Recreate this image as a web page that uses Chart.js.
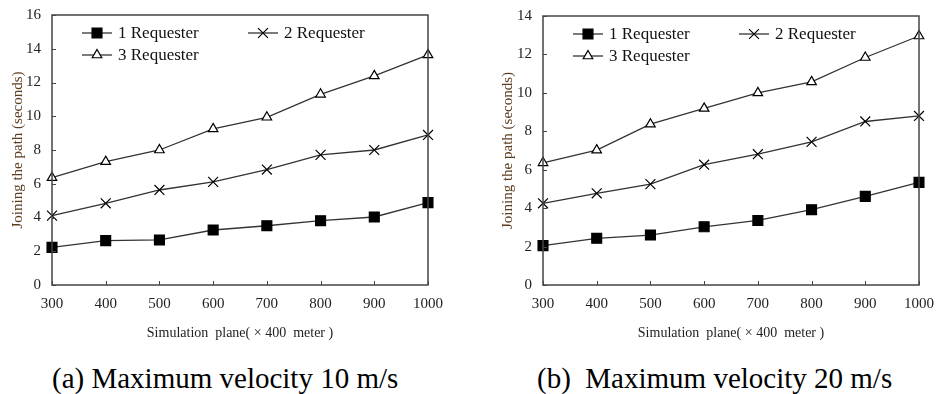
<!DOCTYPE html>
<html>
<head>
<meta charset="utf-8">
<script src="https://cdn.jsdelivr.net/npm/chart.js@4.4.1/dist/chart.umd.min.js"></script>
<style>
  body { margin: 0; background: #fff; width: 936px; height: 394px; position: relative; overflow: hidden; }
  .box { position: absolute; top: 0; height: 345px; }
  .cap { position: absolute; top: 364px; font-family: "Liberation Serif", "Times New Roman", serif;
         font-size: 29px; line-height: 1; white-space: pre; color: #000; }
</style>
</head>
<body>
<div class="box" style="left:0;width:450px"><canvas id="chartA"></canvas></div>
<div class="box" style="left:490px;width:446px"><canvas id="chartB"></canvas></div>
<div class="cap" style="left:52px">(a) Maximum velocity 10 m/s</div>
<div class="cap" style="left:537px">(b)  Maximum velocity 20 m/s</div>
<script>
// valeurs
const xLabels = ['300', '400', '500', '600', '700', '800', '900', '1000'];
const seriesNames = ['1 Requester', '2 Requester', '3 Requester'];

// (a) vitesse max 10 m/s
const req1_10 = [2.23, 2.63, 2.67, 3.26, 3.51, 3.81, 4.03, 4.88];
const req2_10 = [4.11, 4.84, 5.63, 6.11, 6.84, 7.71, 8.0, 8.89];
const req3_10 = [6.36, 7.31, 8.0, 9.25, 9.94, 11.3, 12.39, 13.64];

// (b) vitesse max 20 m/s
const req1_20 = [2.05, 2.43, 2.6, 3.03, 3.36, 3.92, 4.61, 5.34];
const req2_20 = [4.25, 4.77, 5.25, 6.26, 6.81, 7.45, 8.51, 8.8];
const req3_20 = [6.36, 7.02, 8.37, 9.19, 10.0, 10.57, 11.84, 12.96];

const serif = "'Liberation Serif', 'Times New Roman', serif";
const axisColor = '#444';

function drawMarker(ctx, style, x, y, r, fill) {
    ctx.beginPath();
    if (style === 'rect') {
        const s = Math.SQRT1_2 * r;
        ctx.rect(x - s, y - s, 2 * s, 2 * s);
        ctx.fillStyle = fill; ctx.fill(); ctx.stroke();
    } else if (style === 'crossRot') {
        const s = Math.SQRT1_2 * r;
        ctx.moveTo(x - s, y - s); ctx.lineTo(x + s, y + s);
        ctx.moveTo(x - s, y + s); ctx.lineTo(x + s, y - s);
        ctx.stroke();
    } else {
        ctx.moveTo(x, y - r);
        ctx.lineTo(x + r * 0.866, y + r / 2);
        ctx.lineTo(x - r * 0.866, y + r / 2);
        ctx.closePath();
        ctx.fillStyle = fill; ctx.fill(); ctx.stroke();
    }
}

// cadre, graduations vers l'interieur et legende dans la zone du graphe
const framePlugin = {
    id: 'frame',
    afterDraw(chart) {
        const ctx = chart.ctx;
        const a = chart.chartArea;
        ctx.save();
        ctx.strokeStyle = axisColor;
        ctx.lineWidth = 1.5;
        ctx.strokeRect(a.left, a.top, a.right - a.left, a.bottom - a.top);
        ctx.lineWidth = 1;
        chart.scales.y.ticks.forEach(t => {
            const py = Math.round(chart.scales.y.getPixelForValue(t.value)) + 0.5;
            ctx.beginPath(); ctx.moveTo(a.left, py); ctx.lineTo(a.left + 4, py); ctx.stroke();
        });
        xLabels.forEach((l, i) => {
            const px = Math.round(chart.scales.x.getPixelForValue(i)) + 0.5;
            ctx.beginPath(); ctx.moveTo(px, a.bottom); ctx.lineTo(px, a.bottom - 4); ctx.stroke();
        });

        const slots = [[30, 18], [196, 18], [30, 40]];
        ctx.font = '17px ' + serif;
        ctx.textBaseline = 'middle';
        chart.data.datasets.forEach((ds, i) => {
            const x = a.left + slots[i][0];
            const y = a.top + slots[i][1];
            ctx.strokeStyle = '#333';
            ctx.lineWidth = 1.3;
            ctx.beginPath(); ctx.moveTo(x, y); ctx.lineTo(x + 30, y); ctx.stroke();
            ctx.strokeStyle = '#000';
            ctx.lineWidth = 1.2;
            drawMarker(ctx, ds.pointStyle, x + 15, y, ds.pointRadius, ds.pointBackgroundColor);
            ctx.fillStyle = '#111';
            ctx.fillText(ds.label, x + 36, y + 1);
        });
        ctx.restore();
    }
};

function makeChart(id, s1, s2, s3, yMax, yWidth, padRight, padTop) {
    const styles = [
        { pointStyle: 'rect', pointRadius: 7, pointBackgroundColor: '#000' },
        { pointStyle: 'crossRot', pointRadius: 7, pointBackgroundColor: '#000' },
        { pointStyle: 'triangle', pointRadius: 5.5, pointBackgroundColor: '#fff' }
    ];
    const datasets = [s1, s2, s3].map((d, i) => Object.assign({
        label: seriesNames[i],
        data: d,
        borderColor: '#333',
        borderWidth: 1.3,
        pointBorderColor: '#000',
        pointBorderWidth: 1.2,
        pointHoverRadius: 7,
        tension: 0
    }, styles[i]));

    return new Chart(document.getElementById(id), {
        type: 'line',
        data: { labels: xLabels, datasets: datasets },
        plugins: [framePlugin],
        options: {
            responsive: true,
            maintainAspectRatio: false,
            animation: false,
            layout: { padding: { top: padTop, right: padRight, left: 0, bottom: 0 } },
            plugins: { legend: { display: false }, tooltip: { enabled: false } },
            scales: {
                x: {
                    offset: false,
                    grid: { display: false, drawTicks: false },
                    border: { display: false },
                    ticks: { color: '#222', font: { family: serif, size: 15 }, padding: 10, maxRotation: 0 },
                    title: {
                        display: true,
                        text: 'Simulation  plane( × 400  meter )',
                        color: '#222',
                        font: { family: serif, size: 14 },
                        padding: { bottom: 3 }
                    },
                    afterFit(scale) {
                        scale.height = 60;
                        scale.paddingLeft = 0;
                        scale.paddingRight = 0;
                    }
                },
                y: {
                    min: 0,
                    max: yMax,
                    grid: { display: false, drawTicks: false },
                    border: { display: false },
                    ticks: { stepSize: 2, color: '#222', font: { family: serif, size: 15 }, padding: 11 },
                    title: {
                        display: true,
                        text: 'Joining the path (seconds)',
                        color: '#5c3d1e',
                        font: { family: serif, size: 15 },
                        padding: { top: 9 }
                    },
                    afterFit(scale) {
                        scale.width = yWidth;
                        scale.paddingTop = 0;
                        scale.paddingBottom = 0;
                    }
                }
            }
        }
    });
}

makeChart('chartA', req1_10, req2_10, req3_10, 16, 52, 22, 15);
makeChart('chartB', req1_20, req2_20, req3_20, 14, 53, 17, 16);
</script>
</body>
</html>
